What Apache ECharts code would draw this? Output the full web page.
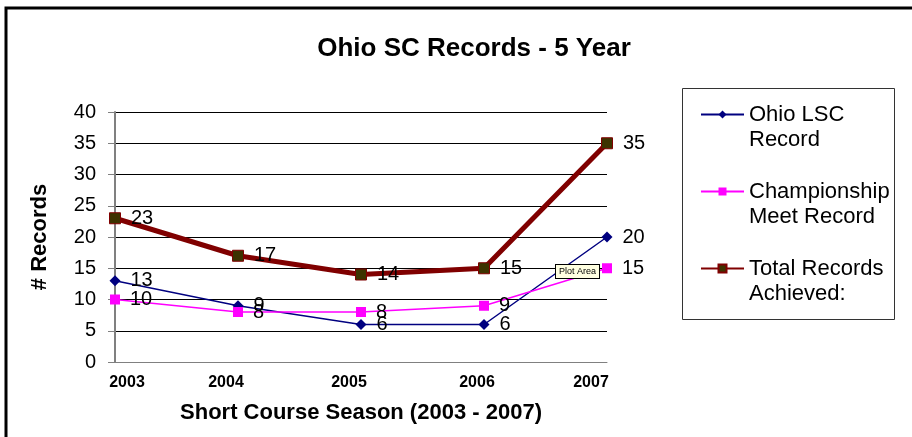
<!DOCTYPE html>
<html>
<head>
<meta charset="utf-8">
<script src="https://cdn.jsdelivr.net/npm/echarts@6/dist/echarts.min.js"></script>
<style>
  html, body { margin: 0; padding: 0; background: #fff; }
  #chart { width: 912px; height: 437px; }
</style>
</head>
<body>
<div id="chart"></div>
<script>
  // seasons and record counts
  const seasons = ['2003', '2004', '2005', '2006', '2007'];
  const lscRecords = [13, 9, 6, 6, 20];
  const meetRecords = [10, 8, 8, 9, 15];
  const totalRecords = [23, 17, 14, 15, 35];
  const seriesNames = ['Ohio LSC\nRecord', 'Championship\nMeet Record', 'Total Records\nAchieved:'];

  // small nudges so the season labels sit like the original (px, + = right)
  const labelNudge = [12, -12, -12, -7, -16];

  const chart = echarts.init(document.getElementById('chart'));
  const font = 'Arial, "Liberation Sans", sans-serif';

  const dataLabel = {
    show: true,
    position: 'right',
    distance: 10,
    color: '#000',
    fontSize: 20,
    fontFamily: font
  };

  const seasonRich = {};
  labelNudge.forEach(function (n, i) {
    seasonRich['s' + i] = {
      fontFamily: font, fontSize: 16, fontWeight: 'bold', color: '#000',
      padding: n > 0 ? [0, 0, 0, 2 * n] : [0, -2 * n, 0, 0]
    };
  });

  chart.setOption({
    backgroundColor: '#fff',
    animation: false,
    title: {
      text: 'Ohio SC Records - 5 Year',
      left: 469,
      textAlign: 'center',
      top: 31,
      textStyle: { fontFamily: font, fontSize: 26, fontWeight: 'bold', color: '#000' }
    },
    legend: {
      orient: 'vertical',
      left: 700,
      top: 77,
      padding: 0,
      itemGap: 2,
      itemWidth: 43,
      itemHeight: 10,
      data: seriesNames,
      formatter: function (name) { return ' \n' + name; },
      textStyle: { fontFamily: font, fontSize: 22, color: '#000', lineHeight: 25 }
    },
    grid: { left: 115, right: 305, top: 112, bottom: 75, containLabel: false },
    xAxis: {
      type: 'category',
      data: seasons,
      boundaryGap: false,
      name: 'Short Course Season (2003 - 2007)',
      nameLocation: 'middle',
      nameGap: 40,
      nameTextStyle: { fontFamily: font, fontSize: 22, fontWeight: 'bold', color: '#000' },
      axisLine: { lineStyle: { color: '#808080', width: 1 } },
      axisTick: { show: false },
      axisLabel: {
        margin: 13,
        interval: 0,
        formatter: function (value, i) { return '{s' + i + '|' + value + '}'; },
        rich: seasonRich
      }
    },
    yAxis: {
      type: 'value',
      min: 0,
      max: 40,
      interval: 5,
      name: '# Records',
      nameLocation: 'middle',
      nameGap: 64,
      nameTextStyle: { fontFamily: font, fontSize: 22, fontWeight: 'bold', color: '#000' },
      axisLine: { show: true, lineStyle: { color: '#808080', width: 2 } },
      axisTick: { show: true, length: 7, lineStyle: { color: '#808080' } },
      axisLabel: { fontFamily: font, fontSize: 20, color: '#000', margin: 19 },
      splitLine: { lineStyle: { color: '#000', width: 1 } }
    },
    series: [
      {
        name: seriesNames[0],
        type: 'line',
        data: lscRecords,
        symbol: 'diamond',
        symbolSize: 11,
        z: 3,
        lineStyle: { color: '#000080', width: 1.5 },
        itemStyle: { color: '#000080' },
        label: dataLabel
      },
      {
        name: seriesNames[1],
        type: 'line',
        data: meetRecords,
        symbol: 'rect',
        symbolSize: 10,
        z: 3,
        lineStyle: { color: '#ff00ff', width: 1.5 },
        itemStyle: { color: '#ff00ff' },
        label: dataLabel
      },
      {
        name: seriesNames[2],
        type: 'line',
        data: totalRecords,
        symbol: 'rect',
        symbolSize: 11,
        z: 4,
        lineStyle: { color: '#800000', width: 5 },
        itemStyle: { color: '#3d3300', borderColor: '#800000', borderWidth: 1 },
        label: dataLabel
      }
    ],
    graphic: [
      {
        type: 'rect',
        shape: { x: 6, y: 8, width: 1000, height: 600 },
        style: { fill: 'none', stroke: '#000', lineWidth: 3 },
        silent: true
      },
      {
        type: 'rect',
        shape: { x: 682.5, y: 88.5, width: 212, height: 231 },
        style: { fill: 'none', stroke: '#333', lineWidth: 1 },
        silent: true
      },
      {
        type: 'text',
        left: 555,
        top: 264,
        z: 10,
        style: {
          text: 'Plot Area',
          fontFamily: font,
          fontSize: 9,
          fill: '#000',
          backgroundColor: '#ffffe1',
          borderColor: '#000',
          borderWidth: 1,
          padding: [2, 3]
        }
      }
    ]
  });
</script>
</body>
</html>
